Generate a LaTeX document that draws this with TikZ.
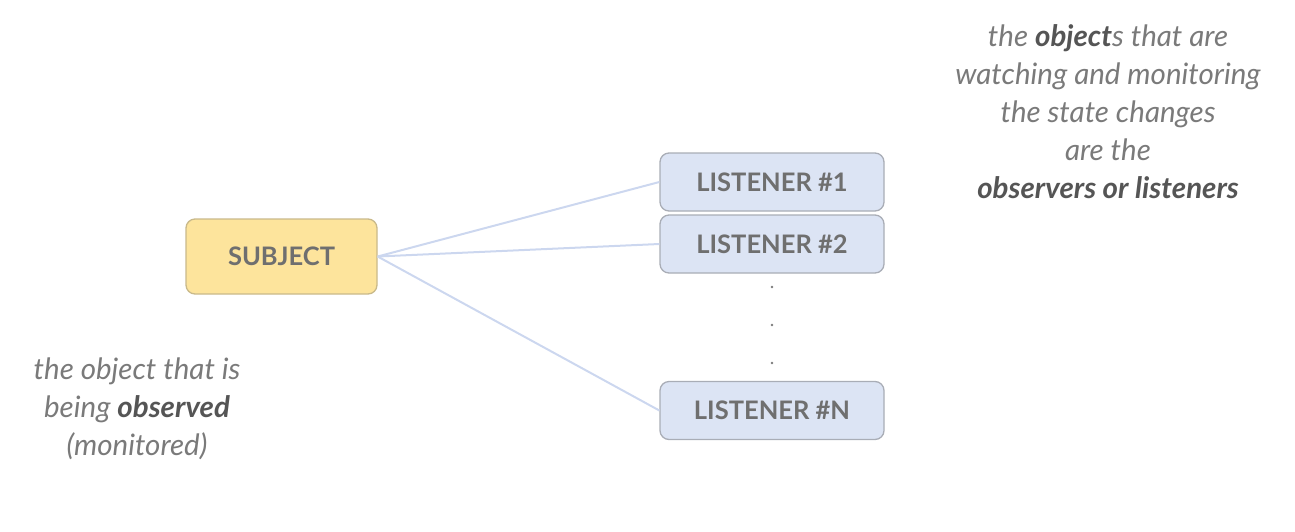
\documentclass[tikz,border=0pt]{standalone}
\usepackage{fontspec}
\setmainfont{Lato}
\definecolor{subjfill}{HTML}{FDE49C}
\definecolor{subjdraw}{HTML}{C9B98A}
\definecolor{lisfill}{HTML}{DCE4F4}
\definecolor{lisdraw}{HTML}{A9ADB6}
\definecolor{linkcol}{HTML}{CCD7EF}
\definecolor{txtgray}{HTML}{7A7A7A}
\definecolor{txtdark}{HTML}{555555}
\definecolor{boxtxt}{HTML}{6F6F6F}
\tikzset{
  box/.style={rounded corners=9pt, line width=1.3pt, inner sep=0pt,
    font=\bfseries\fontsize{25.5}{30}\selectfont, text=boxtxt},
  subjbox/.style={box, fill=subjfill, draw=subjdraw, minimum width=191pt, minimum height=75pt},
  lisbox/.style={box, fill=lisfill, draw=lisdraw, minimum width=224pt, minimum height=58pt},
  link/.style={draw=linkcol, line width=2pt},
  note/.style={align=center, text=txtgray, font=\itshape\fontsize{29.5}{38}\selectfont},
  dotmark/.style={circle, fill=txtgray, inner sep=0pt, minimum size=2.6pt}
}
\newcommand{\dk}[1]{\textcolor{txtdark}{\bfseries #1}}
\begin{document}
\begin{tikzpicture}[x=1pt,y=-1pt]
\useasboundingbox (0,0) rectangle (1295,531);
\node[subjbox] (subj) at (281.5,256.5) {SUBJECT};
\node[lisbox] (l1) at (772,182) {LISTENER \#1};
\node[lisbox] (l2) at (772,244) {LISTENER \#2};
\node[lisbox] (ln) at (772,410.5) {LISTENER \#N};
\node[dotmark] (d1) at (772,287) {};
\node[dotmark] (d2) at (772,325) {};
\node[dotmark] (d3) at (772,363) {};
\draw[link] (subj.east) -- (l1.west);
\draw[link] (subj.east) -- (l2.west);
\draw[link] (subj.east) -- (ln.west);
\node[note] (obs) at (1108,112) {the \dk{object}s that are\\watching and monitoring\\the state changes\\are the\\\dk{observers or listeners}};
\node[note] (sub) at (137,409) {the object that is\\being \dk{observed}\\(monitored)};
\end{tikzpicture}
\end{document}
